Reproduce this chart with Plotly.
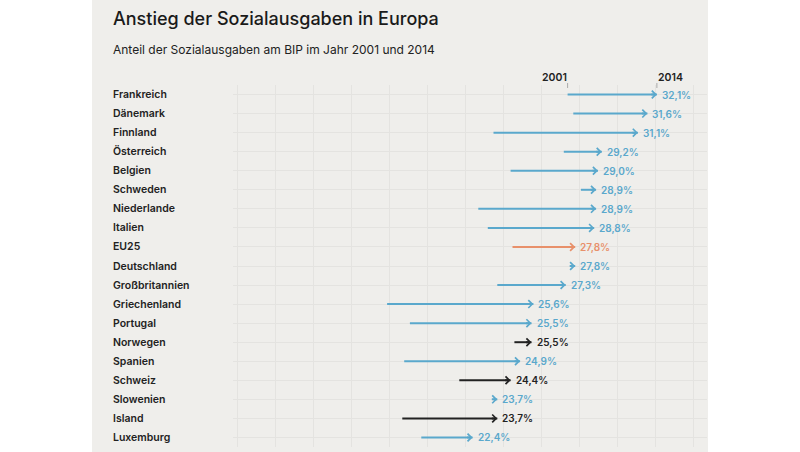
import plotly.graph_objects as go

# ---------------- data ----------------
countries = ["Frankreich", "Dänemark", "Finnland", "Österreich", "Belgien", "Schweden",
             "Niederlande", "Italien", "EU25", "Deutschland", "Großbritannien",
             "Griechenland", "Portugal", "Norwegen", "Spanien", "Schweiz",
             "Slowenien", "Island", "Luxemburg"]
v2001 = [27.4, 27.7, 23.5, 27.2, 24.4, 28.1, 22.7, 23.2, 24.5, 27.7, 23.7,
         17.9, 19.1, 24.6, 18.8, 21.7, 23.5, 18.7, 19.7]
v2014 = [32.1, 31.6, 31.1, 29.2, 29.0, 28.9, 28.9, 28.8, 27.8, 27.8, 27.3,
         25.6, 25.5, 25.5, 24.9, 24.4, 23.7, 23.7, 22.4]
group = ["eu", "eu", "eu", "eu", "eu", "eu", "eu", "eu", "avg", "eu", "eu",
         "eu", "eu", "non", "eu", "non", "eu", "non", "eu"]
year_labels = ["2001", "2014"]
title = "Anstieg der Sozialausgaben in Europa"
subtitle = "Anteil der Sozialausgaben am BIP im Jahr 2001 und 2014"

# ---------------- styling ----------------
colors = {"eu": "#5aa8cc", "avg": "#e8906a", "non": "#222222"}
FONT = "Inter"
W, H = 800, 452
PL, PR, PT, PB = 233, 707, 85, 447   # plot area in pixels


def px_x(px):
    return (px - PL) / (PR - PL)


def px_y(py):
    return (PB - py) / (PB - PT)


fig = go.Figure()

# shafts: one line trace per colour group
for g, col in colors.items():
    xs, ys = [], []
    for i, (a, b, gg) in enumerate(zip(v2001, v2014, group)):
        if gg == g:
            xs += [a, b, None]
            ys += [i, i, None]
    fig.add_trace(go.Scatter(x=xs, y=ys, mode="lines", line=dict(color=col, width=2),
                             hoverinfo="skip", showlegend=False))

annotations = []
for i, (c, a, b, g) in enumerate(zip(countries, v2001, v2014, group)):
    col = colors[g]
    # arrow head at the 2014 value
    annotations.append(dict(x=b, y=i, ax=-7, ay=0, xref="x", yref="y", axref="pixel",
                            ayref="pixel", text="", showarrow=True, arrowhead=4,
                            arrowsize=0.75, arrowwidth=2, arrowcolor=col, standoff=0))
    annotations.append(dict(x=b, y=i, xref="x", yref="y", text=f"{b:.1f}%".replace(".", ","),
                            showarrow=False, xanchor="left", yanchor="middle", xshift=3,
                            font=dict(family=FONT, size=10, color=col, weight=600)))
    annotations.append(dict(x=px_x(111), y=i, xref="paper", yref="y", text=c,
                            showarrow=False, xanchor="left", yanchor="middle",
                            font=dict(family=FONT, size=10.5, color="#222222", weight=600)))

# year labels above first row
annotations.append(dict(x=v2001[0], y=px_y(77), xref="x", yref="paper", text=year_labels[0],
                        showarrow=False, xanchor="right", yanchor="middle", xshift=1,
                        font=dict(family=FONT, size=10.5, color="#222222", weight=600)))
annotations.append(dict(x=v2014[0], y=px_y(77), xref="x", yref="paper", text=year_labels[1],
                        showarrow=False, xanchor="left", yanchor="middle", xshift=-1,
                        font=dict(family=FONT, size=10.5, color="#222222", weight=600)))

annotations.append(dict(x=px_x(111), y=px_y(19), xref="paper", yref="paper", text=title,
                        showarrow=False, xanchor="left", yanchor="middle",
                        font=dict(family=FONT, size=18, color="#1a1a1a", weight=500)))
annotations.append(dict(x=px_x(111), y=px_y(49), xref="paper", yref="paper", text=subtitle,
                        showarrow=False, xanchor="left", yanchor="middle",
                        font=dict(family=FONT, size=12, color="#222222", weight=400)))

shapes = [
    dict(type="rect", xref="paper", yref="paper", x0=px_x(92), x1=px_x(708),
         y0=px_y(453), y1=px_y(-1), fillcolor="#efeeeb", line=dict(width=0), layer="below"),
]
for v in (v2001[0], v2014[0]):
    shapes.append(dict(type="line", xref="x", yref="paper", x0=v, x1=v,
                       y0=px_y(88), y1=px_y(83), line=dict(color="#aaaaaa", width=1)))

fig.update_layout(
    width=W, height=H,
    margin=dict(l=PL, r=W - PR, t=PT, b=H - PB),
    paper_bgcolor="white", plot_bgcolor="rgba(0,0,0,0)",
    xaxis=dict(range=[(PL - 47) / 19, (PR - 47) / 19], tick0=0, dtick=2,
               showgrid=True, gridcolor="#e4e3e0", gridwidth=1, zeroline=False,
               showticklabels=False, ticks="", showline=False, fixedrange=True),
    yaxis=dict(range=[len(countries) - 0.5, -0.5], tick0=0, dtick=1,
               showgrid=True, gridcolor="#e4e3e0", gridwidth=1, zeroline=False,
               showticklabels=False, ticks="", showline=False, fixedrange=True),
    annotations=annotations, shapes=shapes, showlegend=False,
)

fig.write_html("out.html", config={"displayModeBar": False},
               post_script="document.body.style.margin='0px';")
